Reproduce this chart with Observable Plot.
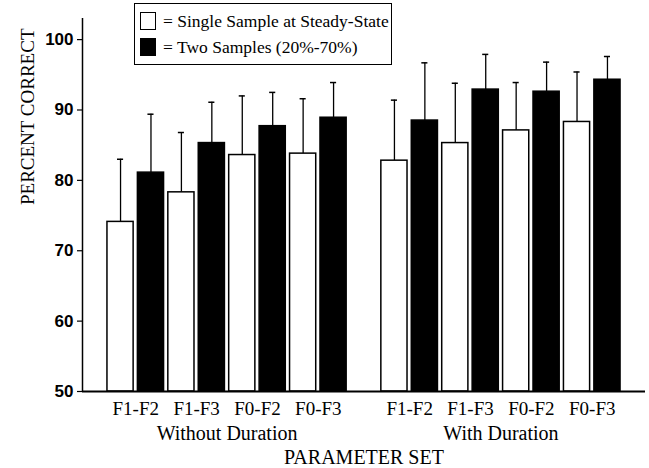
<!DOCTYPE html>
<html><head><meta charset="utf-8">
<script src="https://cdn.jsdelivr.net/npm/d3@7"></script>
<script src="https://cdn.jsdelivr.net/npm/@observablehq/plot@0.6"></script>
<style>
body{margin:0;background:#fff;}
#wrap{position:relative;width:649px;height:468px;}
#legend{position:absolute;left:134px;top:3px;width:256px;height:60px;border:1.5px solid #000;background:#fff;color:#000;}
.item{position:absolute;left:5px;height:18px;display:flex;align-items:center;white-space:nowrap;}
.sw{width:16px;height:18px;border:1.3px solid #000;box-sizing:border-box;margin-right:7px;flex:none;}
.lt{font-family:"Liberation Serif","Times New Roman",serif;font-size:17.5px;line-height:18px;}
</style>
</head><body>
<div id="wrap"><div id="chart"></div><div id="legend"></div></div>
<script>
const groups = ["Without Duration", "With Duration"];
const paramSets = ["F1-F2", "F1-F3", "F0-F2", "F0-F3"];
const series = ["Single Sample at Steady-State", "Two Samples (20%-70%)"];
const seriesFill = ["white", "black"];
// values in order: Without Duration F1-F2..F0-F3, With Duration F1-F2..F0-F3
const singleMean  = [74.1, 78.3, 83.6, 83.8, 82.8, 85.3, 87.1, 88.3];
const singleUpper = [83.0, 86.8, 92.0, 91.6, 91.4, 93.8, 93.9, 95.4];
const twoMean     = [81.1, 85.3, 87.7, 88.9, 88.5, 92.9, 92.6, 94.3];
const twoUpper    = [89.4, 91.1, 92.5, 93.9, 96.7, 97.9, 96.8, 97.6];
const yTicks = [50, 60, 70, 80, 90, 100];
const yDomain = [50, 103];

const means = [singleMean, twoMean];
const uppers = [singleUpper, twoUpper];
const slotsPerGroup = paramSets.length * series.length + 1;
const rows = [];
groups.forEach((g, gi) => paramSets.forEach((p, pi) => series.forEach((s, si) => {
  const k = gi * paramSets.length + pi;
  rows.push({group: g, param: p, series: s, si,
    slot: gi * slotsPerGroup + pi * series.length + si,
    mean: means[si][k], upper: uppers[si][k]});
})));
const pairTicks = [], pairLabels = new Map();
groups.forEach((g, gi) => paramSets.forEach((p, pi) => {
  const c = gi * slotsPerGroup + pi * series.length + (series.length - 1) / 2;
  pairTicks.push(c); pairLabels.set(c, p);
}));
const groupTicks = [], groupLabels = new Map();
groups.forEach((g, gi) => {
  const c = gi * slotsPerGroup + (paramSets.length * series.length - 1) / 2;
  groupTicks.push(c); groupLabels.set(c, g);
});
const lastSlot = (groups.length - 1) * slotsPerGroup + paramSets.length * series.length - 1;
const pad = 1.25, halfBar = 0.43, halfCap = 0.1;
const xDomain = [-pad, lastSlot + pad];

const chart = Plot.plot({
  width: 649, height: 468,
  marginLeft: 82, marginRight: 4, marginTop: 18, marginBottom: 77,
  style: {fontFamily: "Liberation Serif", fontSize: "19px", background: "white", color: "black"},
  x: {type: "linear", domain: xDomain},
  y: {domain: yDomain},
  marks: [
    Plot.ruleX(rows, {x: "slot", y1: "mean", y2: "upper", stroke: "black", strokeWidth: 1.3}),
    Plot.ruleY(rows, {y: "upper", x1: d => d.slot - halfCap, x2: d => d.slot + halfCap, stroke: "black", strokeWidth: 1.5}),
    Plot.rect(rows, {x1: d => d.slot - halfBar, x2: d => d.slot + halfBar, y1: () => yDomain[0], y2: "mean",
      fill: d => seriesFill[d.si], stroke: "black", strokeWidth: 1.5}),
    Plot.ruleY([yDomain[0]], {stroke: "black", strokeWidth: 1.8}),
    Plot.ruleX([xDomain[0]], {stroke: "black", strokeWidth: 1.5}),
    Plot.axisY({ticks: yTicks, tickSize: 5, tickPadding: 4, fontFamily: "Liberation Sans", fontWeight: "bold", fontSize: 17, label: null, strokeWidth: 1.2}),
    Plot.text(["PERCENT CORRECT"], {frameAnchor: "left", dx: -55, rotate: -90, fontSize: 19, fontFamily: "Liberation Serif"}),
    Plot.axisX({ticks: pairTicks, tickFormat: v => pairLabels.get(v), tickSize: 0, tickPadding: 10, fontSize: 19, label: null}),
    Plot.axisX({ticks: groupTicks, tickFormat: v => groupLabels.get(v), tickSize: 0, tickPadding: 34, fontSize: 20,
      label: "PARAMETER SET", labelAnchor: "center", labelArrow: "none", labelOffset: 72})
  ]
});
document.getElementById("chart").appendChild(chart);

const legend = document.getElementById("legend");
series.forEach((s, i) => {
  const item = document.createElement("div");
  item.className = "item";
  item.style.top = (8 + i * 26) + "px";
  const sw = document.createElement("div");
  sw.className = "sw"; sw.style.background = seriesFill[i];
  const t = document.createElement("span");
  t.className = "lt";
  t.textContent = "= " + s;
  item.appendChild(sw); item.appendChild(t);
  legend.appendChild(item);
});
</script>
</body></html>
